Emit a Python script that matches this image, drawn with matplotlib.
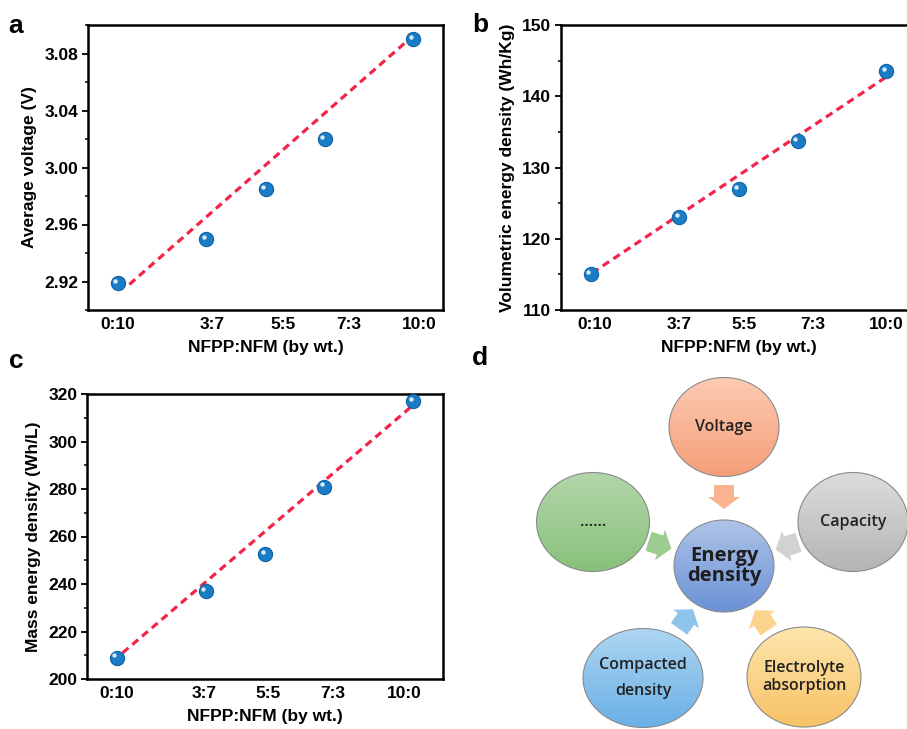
import numpy as np
import matplotlib
matplotlib.use("Agg")
import matplotlib.pyplot as plt
from matplotlib.patches import Ellipse, Polygon
from matplotlib.ticker import MultipleLocator
from matplotlib.transforms import offset_copy
from matplotlib.colors import LinearSegmentedColormap

# ---- data ----
ratio_labels = ["0:10", "3:7", "5:5", "7:3", "10:0"]
nfpp_parts = [0, 3, 5, 7, 10]

avg_voltage = [2.919, 2.950, 2.985, 3.020, 3.090]
vol_energy = [115.0, 123.0, 127.0, 133.7, 143.5]
mass_energy = [209.0, 237.0, 252.5, 281.0, 317.0]

# dashed trend lines (start / end)
fit_x_a, fit_y_a = [0.4, 9.8], [2.918, 3.089]
fit_x_b, fit_y_b = [0.05, 10.1], [115.2, 143.0]
fit_x_c, fit_y_c = [0.2, 10.0], [211.0, 315.4]

# where each panel's tick labels sit
ticks_a = [0.0, 3.2, 5.6, 7.8, 10.2]
ticks_b = [0.15, 3.0, 5.2, 7.5, 10.0]
ticks_c = [0.0, 2.95, 5.1, 7.3, 9.7]

# panel d nodes
node_labels = ["Voltage", "Capacity", "Electrolyte\nabsorption", "Compacted\ndensity", "......"]
node_centers = [(724, 427), (853, 522), (804, 677), (643, 678), (593, 522)]
node_sizes = [(110, 99), (110, 99), (114, 100), (120, 99), (113, 99)]
node_top = ["#fccbb3", "#dcdcdc", "#fde6ad", "#aed6f2", "#b3d6a9"]
node_bottom = ["#f59e78", "#b5b5b5", "#f8c266", "#6ab0e6", "#88c17b"]
node_linespacing = [1.2, 1.2, 1.25, 1.8, 1.2]
arrow_centers = [(724, 497), (787, 546), (762, 620), (686, 619), (660, 545)]
arrow_colors = ["#f9b391", "#d2d2d2", "#fcd38c", "#8ec4ec", "#9ccc8f"]
hub_center, hub_size = (724, 566), (100, 92)

W, H = 907, 729
plt.rcParams["font.family"] = ["Liberation Sans", "DejaVu Sans"]
plt.rcParams["font.weight"] = "bold"

fig = plt.figure(figsize=(W / 100, H / 100), dpi=100)


def px_axes(left, top, right, bottom):
    return fig.add_axes([left / W, 1 - bottom / H, (right - left) / W, (bottom - top) / H])


def scatter_panel(ax, y, fx, fy, ticks, ylim, major, minor, ylabel, fmt):
    ax.plot(fx, fy, linestyle=(0, (2.4, 1.6)), color="#f2244a", lw=2.3, zorder=2)
    ax.scatter(nfpp_parts, y, s=105, color="#1b7cc6", edgecolor="#0f62a8", lw=0.8, zorder=3)
    hl = offset_copy(ax.transData, fig=fig, x=-1.6, y=1.6, units="points")
    ax.scatter(nfpp_parts, y, s=10, color="white", alpha=0.85, lw=0, zorder=4, transform=hl)
    ax.set_xlim(-1, 11)
    ax.set_ylim(*ylim)
    ax.set_xticks(ticks)
    ax.set_xticklabels(ratio_labels)
    ax.yaxis.set_major_locator(MultipleLocator(major))
    ax.yaxis.set_minor_locator(MultipleLocator(minor))
    ax.yaxis.set_major_formatter(fmt)
    ax.tick_params(axis="x", length=0, pad=5, labelsize=12.5)
    ax.tick_params(axis="y", which="major", direction="out", length=4, width=1.3, pad=3, labelsize=12.5)
    ax.tick_params(axis="y", which="minor", direction="out", length=2.5, width=1.1)
    for sp in ax.spines.values():
        sp.set_linewidth(1.8)
    ax.set_xlabel("NFPP:NFM (by wt.)", fontsize=12.5, fontweight="bold", labelpad=6)
    ax.set_ylabel(ylabel, fontsize=12.5, fontweight="bold", labelpad=5)


ax_a = px_axes(88, 25, 443, 310)
scatter_panel(ax_a, avg_voltage, fit_x_a, fit_y_a, ticks_a, (2.90, 3.10), 0.04, 0.02,
              "Average voltage (V)", "{x:.2f}")
ax_b = px_axes(561, 25, 916, 310)
scatter_panel(ax_b, vol_energy, fit_x_b, fit_y_b, ticks_b, (110, 150), 10, 5,
              "Volumetric energy density (Wh/Kg)", "{x:.0f}")
ax_c = px_axes(87, 394, 443, 679)
scatter_panel(ax_c, mass_energy, fit_x_c, fit_y_c, ticks_c, (200, 320), 20, 10,
              "Mass energy density (Wh/L)", "{x:.0f}")

for letter, x, y in [("a", 16, 26), ("b", 480, 25), ("c", 16, 361), ("d", 480, 358)]:
    fig.text(x / W, 1 - y / H, letter, fontsize=19, fontweight="bold", ha="center", va="center")

# ---- panel d: schematic ----
ax_d = px_axes(470, 340, W, H)
ax_d.set_xlim(470, W)
ax_d.set_ylim(H, 340)
ax_d.set_aspect("equal")
ax_d.axis("off")


def gradient_ellipse(center, size, top, bottom):
    cx, cy = center
    w, h = size
    e = Ellipse(center, w, h, facecolor="none", edgecolor="#8a8a8a", lw=0.8, zorder=3)
    ax_d.add_patch(e)
    cmap = LinearSegmentedColormap.from_list("g", [top, bottom])
    grad = np.linspace(0, 1, 64).reshape(-1, 1)
    im = ax_d.imshow(grad, cmap=cmap, aspect="auto", zorder=2,
                     extent=(cx - w / 2, cx + w / 2, cy + h / 2, cy - h / 2))
    im.set_clip_path(e)


def block_arrow(center, target, color, length=24, width=32, shaft=10):
    c = np.array(center, float)
    d = np.array(target, float) - c
    d /= np.hypot(*d)
    n = np.array([-d[1], d[0]])
    local = [(-length / 2, -shaft), (0, -shaft), (0, -width / 2), (length / 2, 0),
             (0, width / 2), (0, shaft), (-length / 2, shaft)]
    pts = [c + a * d + b * n for a, b in local]
    ax_d.add_patch(Polygon(pts, closed=True, facecolor=color, edgecolor="none", zorder=2))


for lab, cen, sz, top, bot, ls in zip(node_labels, node_centers, node_sizes,
                                      node_top, node_bottom, node_linespacing):
    gradient_ellipse(cen, sz, top, bot)
    ax_d.text(cen[0], cen[1], lab, ha="center", va="center", fontsize=11.5,
              fontweight="semibold", family=["Open Sans", "DejaVu Sans"], color="#222222",
              linespacing=ls, zorder=5)

gradient_ellipse(hub_center, hub_size, "#aec3e8", "#6b92d6")
ax_d.text(hub_center[0], hub_center[1], "Energy\ndensity", ha="center", va="center",
          fontsize=14.5, fontweight="bold", family=["Open Sans", "DejaVu Sans"],
          color="#1e1e1e", linespacing=1.0, zorder=5)

for cen, col in zip(arrow_centers, arrow_colors):
    block_arrow(cen, hub_center, col)

fig.savefig("out.png", dpi=100)
